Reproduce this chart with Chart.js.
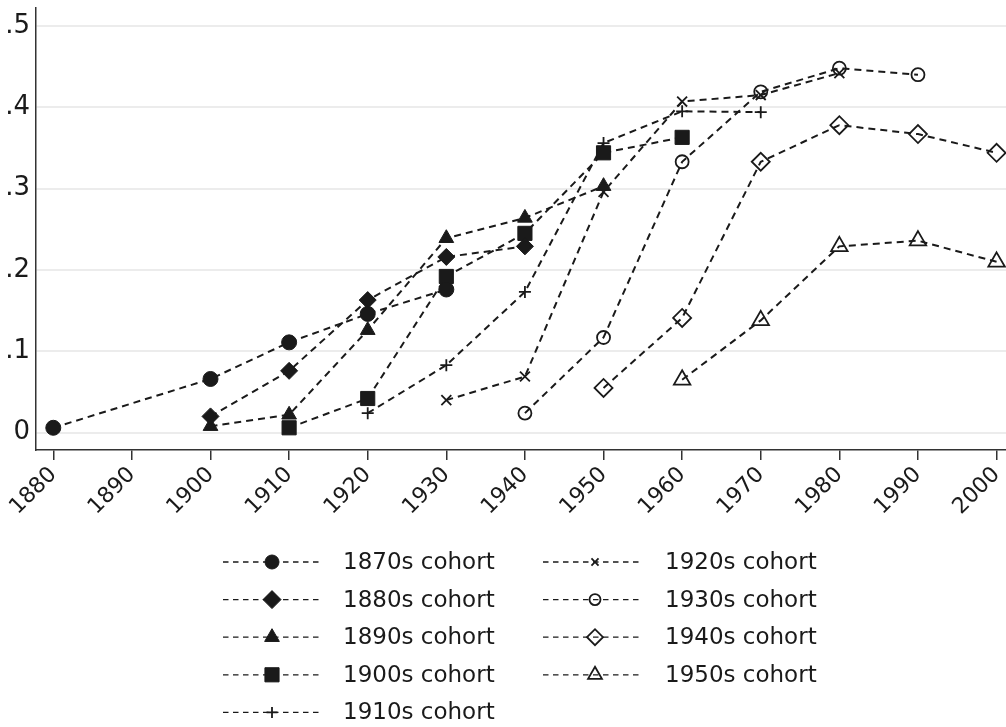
<!DOCTYPE html>
<html>
<head>
<meta charset="utf-8">
<script src="https://cdn.jsdelivr.net/npm/chart.js@4/dist/chart.umd.min.js"></script>
<style>
  html, body { margin: 0; padding: 0; background: #ffffff; }
  #wrap { width: 1006px; height: 727px; position: relative; }
</style>
</head>
<body>
<div id="wrap"><canvas id="c" width="1006" height="727"></canvas></div>
<script>
// ---------- data ----------
const years = [1880, 1890, 1900, 1910, 1920, 1930, 1940, 1950, 1960, 1970, 1980, 1990, 2000];
const xTicks = [1880, 1890, 1900, 1910, 1920, 1930, 1940, 1950, 1960, 1970, 1980, 1990, 2000];
const yTicks = [0, 0.1, 0.2, 0.3, 0.4, 0.5];
const yTickLabels = ['0', '.1', '.2', '.3', '.4', '.5'];

const cohortNames = ['1870s cohort', '1880s cohort', '1890s cohort', '1900s cohort', '1910s cohort',
                     '1920s cohort', '1930s cohort', '1940s cohort', '1950s cohort'];

//                 1880   1890  1900   1910   1920   1930   1940   1950   1960   1970   1980   1990   2000
const cohort1870 = [0.006, null, 0.066, 0.111, 0.146, 0.176, null,  null,  null,  null,  null,  null,  null];
const cohort1880 = [null,  null, 0.020, 0.076, 0.163, 0.216, 0.229, null,  null,  null,  null,  null,  null];
const cohort1890 = [null,  null, 0.008, 0.022, 0.126, 0.239, 0.264, 0.303, null,  null,  null,  null,  null];
const cohort1900 = [null,  null, null,  0.006, 0.042, 0.192, 0.245, 0.344, 0.363, null,  null,  null,  null];
const cohort1910 = [null,  null, null,  null,  0.024, 0.083, 0.173, 0.356, 0.395, 0.394, null,  null,  null];
const cohort1920 = [null,  null, null,  null,  null,  0.040, 0.069, 0.296, 0.407, 0.415, 0.442, null,  null];
const cohort1930 = [null,  null, null,  null,  null,  null,  0.024, 0.117, 0.333, 0.419, 0.448, 0.440, null];
const cohort1940 = [null,  null, null,  null,  null,  null,  null,  0.055, 0.141, 0.333, 0.378, 0.367, 0.344];
const cohort1950 = [null,  null, null,  null,  null,  null,  null,  null,  0.065, 0.138, 0.229, 0.236, 0.210];

const seriesValues = [cohort1870, cohort1880, cohort1890, cohort1900, cohort1910,
                      cohort1920, cohort1930, cohort1940, cohort1950];

// ---------- styles ----------
const INK = '#1a1a1a';
const markerStyles = [
  { style: 'circle',   r: 7.5, lr: 7,   fill: true,  bw: 1 },
  { style: 'rectRot',  r: 8.5, lr: 9,   fill: true,  bw: 1 },
  { style: 'triangle', r: 8.5, lr: 8.5, fill: true,  bw: 1 },
  { style: 'rect',     r: 10,  lr: 10,  fill: true,  bw: 1 },
  { style: 'cross',    r: 6,   lr: 5.5, fill: false, bw: 1.8 },
  { style: 'crossRot', r: 7,   lr: 5,   fill: false, bw: 1.8 },
  { style: 'circle',   r: 6.5, lr: 5.5, fill: false, bw: 1.8 },
  { style: 'rectRot',  r: 9,   lr: 8,   fill: false, bw: 1.8 },
  { style: 'triangle', r: 9.5, lr: 8,   fill: false, bw: 1.8 }
];

function toPoints(values) {
  const pts = [];
  values.forEach((v, i) => { if (v !== null) pts.push({ x: years[i], y: v }); });
  return pts;
}

const datasets = seriesValues.map((vals, i) => {
  const m = markerStyles[i];
  return {
    label: cohortNames[i],
    data: toPoints(vals),
    borderColor: INK,
    borderWidth: 2,
    borderDash: [7, 5],
    tension: 0,
    fill: false,
    clip: false,
    pointStyle: m.style,
    pointRadius: m.r,
    pointHoverRadius: m.r,
    pointBorderWidth: m.bw,
    pointBorderColor: INK,
    pointBackgroundColor: m.fill ? INK : 'rgba(0,0,0,0)'
  };
});

// ---------- custom legend (line + marker + label) ----------
const legendPlugin = {
  id: 'cohortLegend',
  afterDraw(chart) {
    const ctx = chart.ctx;
    const cols = [
      { x0: 223, x1: 320, mx: 272, tx: 343 },
      { x0: 543, x1: 643, mx: 595, tx: 665 }
    ];
    const rowY0 = 562, rowStep = 37.6;
    chart.data.datasets.forEach((ds, i) => {
      const col = cols[i < 5 ? 0 : 1];
      const row = i < 5 ? i : i - 5;
      const y = rowY0 + row * rowStep;
      const m = markerStyles[i];
      ctx.save();
      ctx.strokeStyle = INK;
      ctx.lineWidth = 1.3;
      ctx.setLineDash([5.5, 4.5]);
      ctx.beginPath();
      ctx.moveTo(col.x0, y);
      ctx.lineTo(col.x1, y);
      ctx.stroke();
      ctx.setLineDash([]);
      ctx.fillStyle = m.fill ? INK : 'rgba(0,0,0,0)';
      ctx.strokeStyle = INK;
      ctx.lineWidth = m.bw;
      Chart.helpers.drawPoint(ctx, {
        pointStyle: m.style, radius: m.lr, rotation: 0, borderWidth: m.bw
      }, col.mx, y);
      ctx.fillStyle = INK;
      ctx.font = '23px "DejaVu Sans"';
      ctx.textAlign = 'left';
      ctx.textBaseline = 'middle';
      ctx.fillText(ds.label, col.tx, y + 1);
      ctx.restore();
    });
  }
};

new Chart(document.getElementById('c'), {
  type: 'line',
  data: { datasets },
  plugins: [legendPlugin],
  options: {
    responsive: false,
    animation: false,
    devicePixelRatio: 1,
    layout: { autoPadding: false, padding: { top: 8, left: 0, right: 0, bottom: 0 } },
    plugins: { legend: { display: false }, tooltip: { enabled: false } },
    scales: {
      x: {
        type: 'linear',
        min: 1877.8,
        max: 2001.2,
        afterBuildTicks(scale) { scale.ticks = xTicks.map(v => ({ value: v })); },
        afterFit(scale) { scale.height = 277; scale.paddingLeft = 0; scale.paddingRight = 0; },
        grid: { drawOnChartArea: false, drawTicks: true, tickLength: 10, color: '#333', lineWidth: 1.5 },
        border: { display: true, color: '#333', width: 1.5 },
        ticks: {
          autoSkip: false, minRotation: 45, maxRotation: 45, padding: 2,
          color: INK, font: { family: 'DejaVu Sans', size: 22 },
          callback: (v) => String(v)
        }
      },
      y: {
        type: 'linear',
        min: -0.0213,
        max: 0.522,
        afterBuildTicks(scale) { scale.ticks = yTicks.map(v => ({ value: v })); },
        afterFit(scale) { scale.width = 36; scale.paddingTop = 0; scale.paddingBottom = 0; },
        grid: { drawTicks: false, color: '#ececec', lineWidth: 2 },
        border: { display: true, color: '#333', width: 1.5 },
        ticks: {
          padding: 6, color: INK, font: { family: 'DejaVu Sans', size: 26 },
          callback: (v) => { const k = yTicks.findIndex(t => Math.abs(t - v) < 1e-9); return k >= 0 ? yTickLabels[k] : ''; }
        }
      }
    }
  }
});
</script>
</body>
</html>
